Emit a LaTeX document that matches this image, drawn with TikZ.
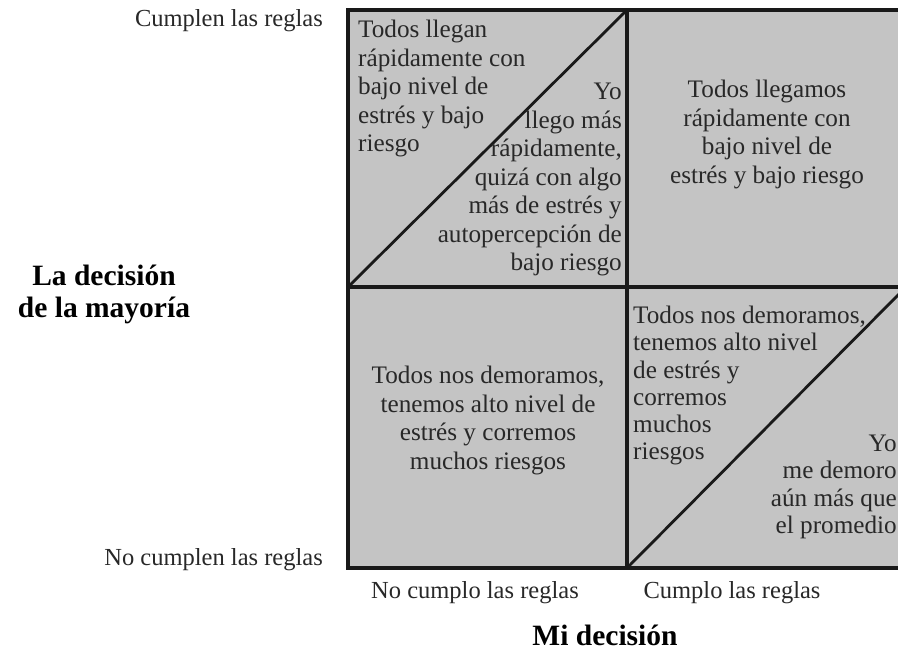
\documentclass[tikz,border=0pt]{standalone}
\usepackage{fontspec}
\setmainfont{Liberation Serif}
\definecolor{cellgray}{RGB}{196,196,196}
\definecolor{ink}{RGB}{25,25,25}
\definecolor{txt}{RGB}{40,40,40}
\tikzset{
  gridline/.style={draw=ink, line width=3.2pt},
  diagline/.style={draw=ink, line width=2.8pt},
  celltext/.style={inner sep=0pt, text=txt, font=\fontsize{25.2}{28.5}\selectfont},
  celltextb/.style={inner sep=0pt, text=txt, font=\fontsize{25.2}{27.2}\selectfont},
  axislabel/.style={inner sep=0pt, text=txt, font=\fontsize{24.5}{28.5}\selectfont},
  titlelabel/.style={inner sep=0pt, text=black, font=\fontsize{29.5}{32}\selectfont\bfseries, align=center},
}
\begin{document}
\begin{tikzpicture}[x=1pt,y=-1pt]
\clip (0,0) rectangle (898,661);
\fill[white] (0,0) rectangle (898,661);
% grid corners
\coordinate (tl) at (348,10);
\coordinate (tm) at (627,10);
\coordinate (tr) at (906,10);
\coordinate (ml) at (348,287);
\coordinate (mm) at (627,287);
\coordinate (mr) at (906,287);
\coordinate (bl) at (348,568);
\coordinate (bm) at (627,568);
\coordinate (br) at (906,568);
\fill[cellgray] (tl) rectangle (br);
\draw[gridline] (tl) rectangle (br);
\draw[gridline] (tm) -- (bm);
\draw[gridline] (ml) -- (mr);
\draw[diagline, line cap=round] (ml) -- (tm);
\draw[diagline, line cap=round] (bm) -- (mr);
% cell texts
\node[celltext, anchor=north west, align=left] (c1a) at (358,20)
  {Todos llegan\\rápidamente con\\bajo nivel de\\estrés y bajo\\riesgo};
\node[celltext, anchor=north east, align=right] (c1b) at (622,83)
  {Yo\\llego más\\rápidamente,\\quizá con algo\\más de estrés y\\autopercepción de\\bajo riesgo};
\node[celltext, anchor=north, align=center] (c2) at (767,80)
  {Todos llegamos\\rápidamente con\\bajo nivel de\\estrés y bajo riesgo};
\node[celltext, anchor=north, align=center] (c3) at (488,366)
  {Todos nos demoramos,\\tenemos alto nivel de\\estrés y corremos\\muchos riesgos};
\node[celltextb, anchor=north west, align=left] (c4a) at (633,306)
  {Todos nos demoramos,\\tenemos alto nivel\\de estrés y\\corremos\\muchos\\riesgos};
\node[celltextb, anchor=north east, align=right] (c4b) at (897,435)
  {Yo\\me demoro\\aún más que\\el promedio};
% axis labels
\node[axislabel, anchor=base east] (ytop) at (323,27) {Cumplen las reglas};
\node[axislabel, anchor=base east] (ybot) at (323,565) {No cumplen las reglas};
\node[axislabel, anchor=base] (xleft) at (475,598) {No cumplo las reglas};
\node[axislabel, anchor=base] (xright) at (732,598) {Cumplo las reglas};
\node[titlelabel, anchor=north] (ytitle) at (104,265) {La decisión\\de la mayoría};
\node[titlelabel, anchor=base] (xtitle) at (605,645) {Mi decisión};
\end{tikzpicture}
\end{document}
